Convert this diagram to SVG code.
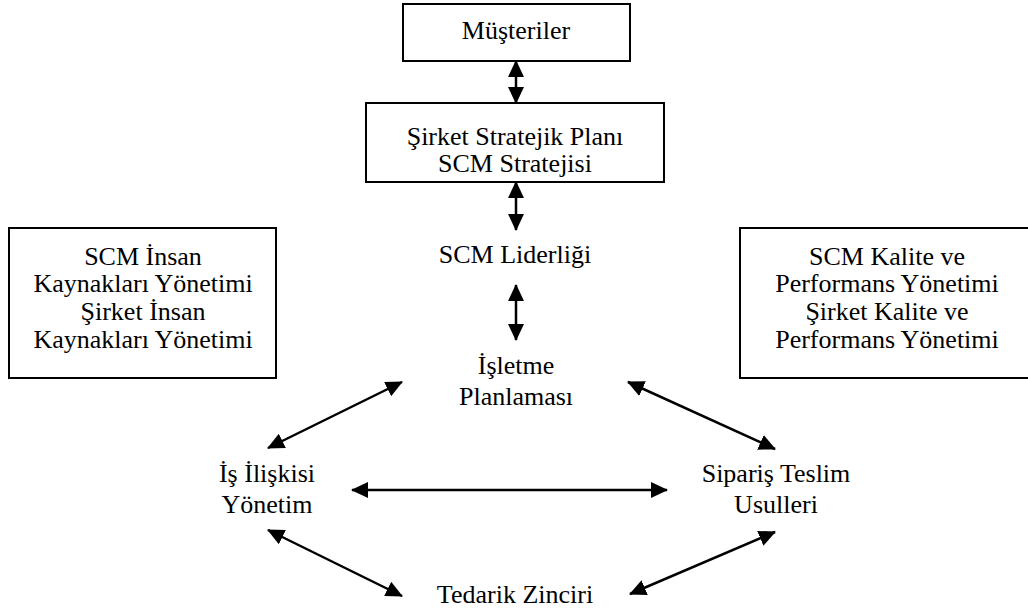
<svg xmlns="http://www.w3.org/2000/svg" width="1028" height="612" viewBox="0 0 1028 612">
<style>
text{font-family:"Liberation Serif","Times New Roman",serif;font-size:26px;fill:#000;text-anchor:middle}
.box{fill:#fff;stroke:#000;stroke-width:2}
.c{stroke:#000;stroke-width:2.5;fill:none;marker-start:url(#ah);marker-end:url(#ah)}
</style>
<defs>
<marker id="ah" markerUnits="userSpaceOnUse" markerWidth="17" markerHeight="16" refX="16" refY="8" orient="auto-start-reverse" viewBox="0 0 17 16">
<path d="M0,0 L17,8 L0,16 z" fill="#000"/>
</marker>
</defs>
<rect width="1028" height="612" fill="#fff"/>
<g id="connectors">
<line class="c" x1="516" y1="61" x2="516" y2="103"/>
<line class="c" x1="516" y1="182" x2="516" y2="230"/>
<line class="c" x1="516" y1="285" x2="516" y2="340"/>
<line class="c" x1="402" y1="382" x2="268" y2="448"/>
<line class="c" x1="628" y1="382" x2="775" y2="449"/>
<line class="c" x1="352" y1="490" x2="667" y2="490"/>
<line class="c" x1="268" y1="530" x2="402" y2="596"/>
<line class="c" x1="775" y1="532" x2="630" y2="594"/>
</g>
<g id="musteriler">
<rect class="box" x="403" y="4" width="227" height="57"/>
<text x="516" y="39">Müşteriler</text>
</g>
<g id="strateji">
<rect class="box" x="366" y="103" width="298" height="79"/>
<text x="515" y="145">Şirket Stratejik Planı</text>
<text x="515" y="172">SCM Stratejisi</text>
</g>
<g id="liderlik">
<text x="515" y="263">SCM Liderliği</text>
</g>
<g id="insan-kaynaklari">
<rect class="box" x="9" y="228" width="267" height="150"/>
<text x="143" y="265">SCM İnsan</text>
<text x="143" y="292">Kaynakları Yönetimi</text>
<text x="143" y="320">Şirket İnsan</text>
<text x="143" y="348">Kaynakları Yönetimi</text>
</g>
<g id="kalite">
<rect class="box" x="740" y="228" width="294" height="150"/>
<text x="887" y="265">SCM Kalite ve</text>
<text x="887" y="292">Performans Yönetimi</text>
<text x="887" y="320">Şirket Kalite ve</text>
<text x="887" y="348">Performans Yönetimi</text>
</g>
<g id="isletme">
<text x="516" y="374">İşletme</text>
<text x="516" y="405">Planlaması</text>
</g>
<g id="is-iliskisi">
<text x="267" y="482">İş İlişkisi</text>
<text x="267" y="513">Yönetim</text>
</g>
<g id="siparis">
<text x="776" y="482">Sipariş Teslim</text>
<text x="776" y="513">Usulleri</text>
</g>
<g id="tedarik">
<text x="515" y="603">Tedarik Zinciri</text>
</g>
</svg>
